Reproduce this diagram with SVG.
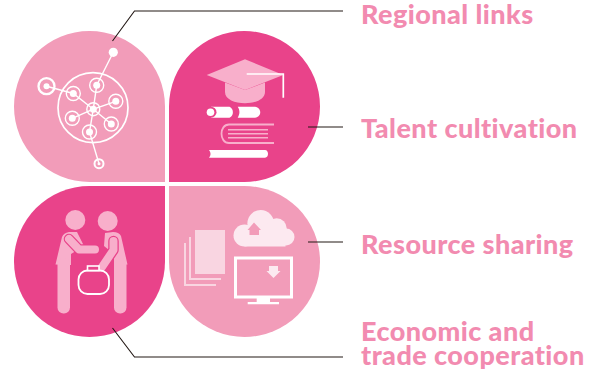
<svg xmlns="http://www.w3.org/2000/svg" width="597" height="371" viewBox="0 0 597 371">
<style>
.light{fill:#f29cb9}.dark{fill:#e9438a}
.conn{fill:none;stroke:#231815;stroke-width:1.1}
.lbl{font-family:"Lato","Liberation Sans",sans-serif;font-weight:900;font-size:27px;letter-spacing:.45px;fill:#f28bb0}
.w{fill:none;stroke:#fff}
.wf{fill:#fff}
.p{fill:#f8afcb}
</style>
<rect width="597" height="371" fill="#fff"/>
<g id="node-regional">
<path class="light" d="M165 182H89.500A75.500 75.500 0 1 1 165 106.500Z"/>
<g class="w" stroke-width="1.400">
<circle cx="93" cy="107.700" r="35" stroke-width="1.700"/>
<circle cx="96.700" cy="85.300" r="7"/><circle cx="115.800" cy="101.300" r="7"/><circle cx="111.300" cy="124" r="7"/><circle cx="89.500" cy="132" r="7"/><circle cx="72.300" cy="118.300" r="7"/><circle cx="73.300" cy="93.500" r="7"/>
<circle cx="93.300" cy="109.200" r="6.500"/>
<circle cx="46.500" cy="86.200" r="8" stroke-width="2.300"/>
<circle cx="99" cy="163.700" r="4.500" stroke-width="2"/>
<path d="M113.300 52.300L96.700 85.300L93.300 109.200L89.500 132L99 163.700M46.500 86.200L73.300 93.500L93.300 109.200L115.800 101.300M93.300 109.200L111.300 124M93.300 109.200L72.300 118.300"/>
</g>
<g class="wf">
<circle cx="113.300" cy="52.300" r="4.600"/><circle cx="96.700" cy="85.300" r="3.500"/><circle cx="115.800" cy="101.300" r="3.500"/><circle cx="111.300" cy="124" r="3.500"/><circle cx="89.500" cy="132" r="3.500"/><circle cx="72.300" cy="118.300" r="3.500"/><circle cx="73.300" cy="93.500" r="3.500"/><circle cx="93.300" cy="109.200" r="3.500"/><circle cx="46.500" cy="86.200" r="3"/><circle cx="99" cy="163.700" r="1.500"/>
</g>
</g>
<g id="node-talent">
<path class="dark" d="M169 182V106.500A75.500 75.500 0 1 1 244.500 182Z"/>
<path class="p" d="M225 82.500V92C225 107 265 107 265 92V82.500L245 90Z"/>
<path class="p" d="M206.700 75L245 59.300L283.300 75L245 90Z"/>
<path class="w" stroke-width="1.700" d="M246.700 74H283.300V97.700"/>
<path class="wf" d="M211 106.700H229.500C234 108.500 234 116 229.500 117.700H211Z"/>
<circle cx="211" cy="112.200" r="5.500" fill="#e9438a"/>
<circle cx="210.500" cy="112.200" r="3.800" class="wf"/>
<path class="wf" d="M237.700 106.700H255C262 107.500 262 117 255 117.700H237.700C240 114 240 110 237.700 106.700Z"/>
<path fill="none" stroke="#f8afcb" stroke-width="1.800" d="M274 124.500H229C219 124.500 219 143 229 143H274"/>
<path fill="none" stroke="#f8afcb" stroke-width="1.500" d="M228 129.700H268M228 133.700H268M228 137.700H268"/>
<path class="wf" d="M209 150H265C269 150 269 157.700 265 157.700H209C211 155 211 153 209 150Z"/>
</g>
<g id="node-trade">
<path class="dark" d="M165 186V261.500A75.500 75.500 0 1 1 89.500 186Z"/>
<g class="p">
<circle cx="75.300" cy="220" r="10"/><circle cx="107.700" cy="221" r="10"/>
<path d="M55.500 264.500L62 237Q63.500 233 69 232L77 232L84 246L71 254V265Z"/>
<rect x="57.500" y="258" width="12.500" height="55.500" rx="6"/>
<path d="M127.500 264.500L121 236Q119 232 113 232L105 233L104 246L114 254V265Z"/>
<rect x="114" y="258" width="12.500" height="55.500" rx="6"/>
</g>
<path fill="none" stroke="#e9438a" stroke-width="10.500" stroke-linecap="round" stroke-linejoin="round" d="M69 239L79 249.500H95M113.500 241V250L102 267"/>
<path fill="none" stroke="#f8afcb" stroke-width="8" stroke-linecap="round" stroke-linejoin="round" d="M69 239L79 249.500H95M113.500 241V250L102 267"/>
<rect x="78.500" y="270.500" width="30.500" height="23.500" rx="9" fill="#e9438a" stroke="#fff" stroke-width="1.800"/>
<rect x="87.500" y="266" width="11.500" height="4.500" fill="#e9438a" stroke="#fff" stroke-width="1.600"/>
</g>
<g id="node-resource">
<path class="light" d="M169 186H244.500A75.500 75.500 0 1 1 169 261.500Z"/>
<path fill="#f9d5e1" d="M195 230H225V274H195Z"/>
<path fill="none" stroke="#f9d5e1" stroke-width="2" d="M190 237V279H221M185 243V285H216"/>
<g fill="#fce9f0">
<circle cx="244.500" cy="235.500" r="11"/><circle cx="260.700" cy="223.300" r="13.300"/><circle cx="276.700" cy="228.300" r="10"/><circle cx="286" cy="237" r="8.500"/>
<rect x="244.500" y="226" width="41" height="20.500"/>
</g>
<path fill="#f29cb9" d="M254 222.500L261 230H259V235H249.500V230H247.500Z"/>
<rect x="235.500" y="258" width="56" height="39" fill="none" stroke="#fff" stroke-width="3"/>
<path class="wf" d="M256.700 297H270V302H279V304.300H247.700V302H256.700Z"/>
<path fill="#fce9f0" d="M269 266H278V271H280.500L273.500 278L266.500 271H269Z"/>
</g>
<g id="connectors">
<path class="conn" d="M112.500 41L134.500 11H343"/>
<path class="conn" d="M308 127H343"/>
<path class="conn" d="M308 242H343"/>
<path class="conn" d="M112.500 328L134.500 357H343"/>
</g>
<g id="labels">
<text class="lbl" x="361" y="24">Regional links</text>
<text class="lbl" x="361" y="138">Talent cultivation</text>
<text class="lbl" x="361" y="254">Resource sharing</text>
<text class="lbl" x="361" y="341">Economic and</text>
<text class="lbl" x="361" y="365">trade cooperation</text>
</g>
</svg>
